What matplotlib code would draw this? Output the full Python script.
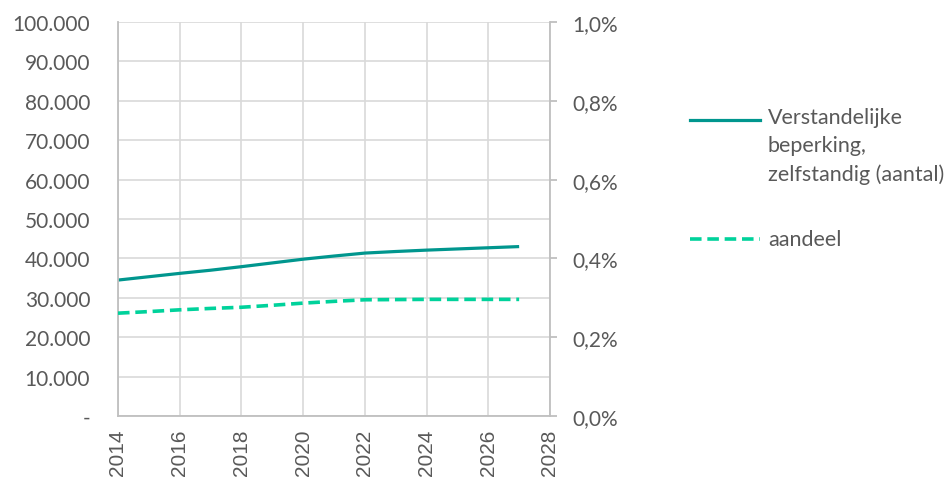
import matplotlib.pyplot as plt
from matplotlib.lines import Line2D
from matplotlib.ticker import FuncFormatter, MultipleLocator

plt.rcParams['font.family'] = ['Lato', 'DejaVu Sans']

# ---------------------- data ----------------------
jaren = [2014, 2015, 2016, 2017, 2018, 2019, 2020, 2021, 2022, 2023, 2024, 2025, 2026, 2027]
aantal = [34500, 35350, 36200, 37000, 37900, 38850, 39800, 40600, 41350, 41750, 42100, 42400, 42700, 43000]
aandeel = [0.261, 0.265, 0.2695, 0.273, 0.276, 0.281, 0.2865, 0.291, 0.295, 0.2955, 0.296, 0.296, 0.296, 0.296]

label_aantal = 'Verstandelijke\nbeperking,\nzelfstandig (aantal)'
label_aandeel = 'aandeel'

kleur_aantal = '#00968e'
kleur_aandeel = '#00d29b'
tekst = '#595959'
raster = '#d9d9d9'
as_kleur = '#bfbfbf'

W, H = 953, 481
fig = plt.figure(figsize=(W / 100, H / 100), dpi=100)
ax = fig.add_axes([118 / W, (H - 417) / H, (550 - 118) / W, (417 - 23) / H])
ax2 = ax.twinx()

ax.plot(jaren, aantal, color=kleur_aantal, lw=2.3, solid_capstyle='butt')
ax2.plot(jaren, aandeel, color=kleur_aandeel, lw=2.6, dashes=(3.2, 1.6))

ax.set_xlim(2014, 2028)
ax.set_ylim(0, 100000)
ax2.set_ylim(0, 1.0)

ax.xaxis.set_major_locator(MultipleLocator(2))
ax.yaxis.set_major_locator(MultipleLocator(10000))
ax2.yaxis.set_major_locator(MultipleLocator(0.2))

ax.yaxis.set_major_formatter(FuncFormatter(
    lambda v, p: '-' if v == 0 else f'{int(v):,}'.replace(',', '.')))
ax2.yaxis.set_major_formatter(FuncFormatter(
    lambda v, p: f'{v:.1f}%'.replace('.', ',')))

ax.grid(True, color=raster, lw=1.2)
ax.set_axisbelow(True)

for a in (ax, ax2):
    for s in a.spines.values():
        s.set_visible(False)
ax.spines['left'].set_visible(True)
ax.spines['bottom'].set_visible(True)
ax2.spines['right'].set_visible(True)
for s in (ax.spines['left'], ax.spines['bottom'], ax2.spines['right']):
    s.set_color(as_kleur)
    s.set_linewidth(1.3)

ax.tick_params(axis='y', length=0, pad=20, labelsize=15, labelcolor=tekst)
ax.tick_params(axis='x', length=0, pad=9, labelsize=15, labelcolor=tekst,
               labelrotation=90)
for t in ax.get_xticklabels():
    t.set_fontfamily('Liberation Sans')
ax2.tick_params(axis='y', length=5, width=1.3, color=as_kleur, pad=11,
                labelsize=15, labelcolor=tekst)

# legenda rechts naast de grafiek
def fx(px):
    return px / W

def fy(py):
    return (H - py) / H

fig.add_artist(Line2D([fx(690), fx(760)], [fy(121), fy(121)],
                      color=kleur_aantal, lw=2.3))
fig.text(fx(768), fy(108), label_aantal, fontsize=15.5, color=tekst,
         va='top', ha='left', linespacing=1.5)
fig.add_artist(Line2D([fx(690), fx(760)], [fy(240), fy(240)],
                      color=kleur_aandeel, lw=2.6, dashes=(3.2, 1.6)))
fig.text(fx(768), fy(240), label_aandeel, fontsize=15.5, color=tekst,
         va='center', ha='left')

fig.savefig('out.png', dpi=100)
